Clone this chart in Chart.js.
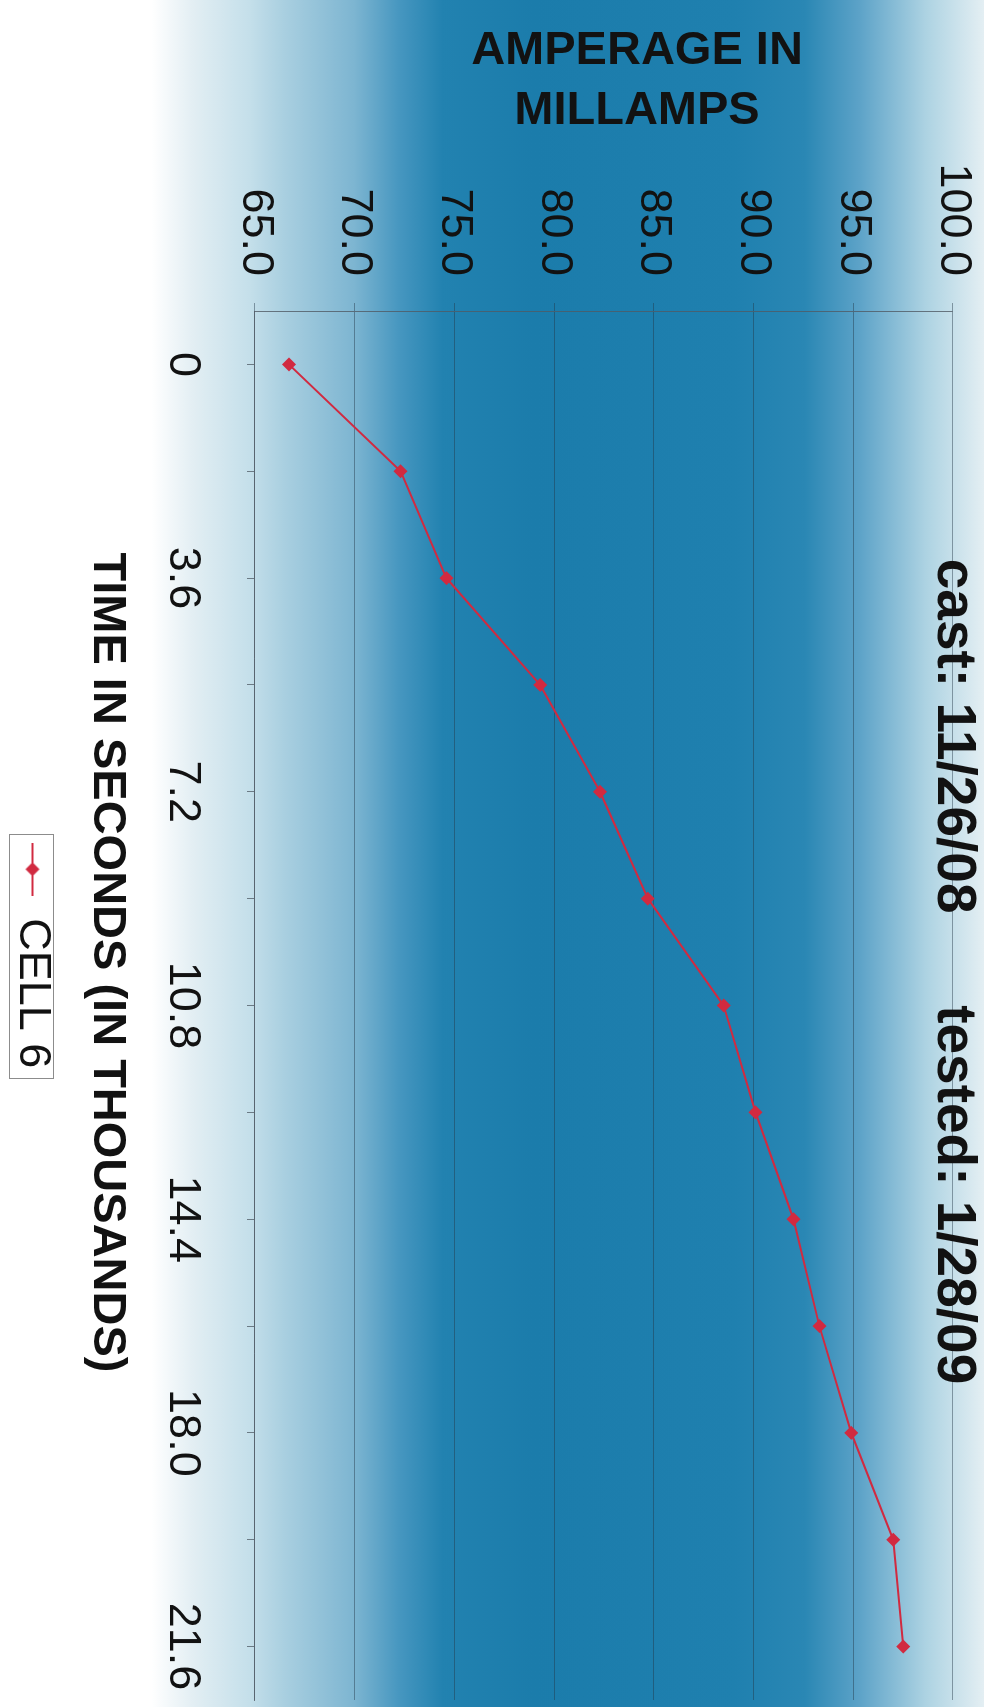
<!DOCTYPE html>
<html>
<head>
<meta charset="utf-8">
<title>Cell 6 amperage</title>
<script src="https://cdn.jsdelivr.net/npm/chart.js@4.4.0/dist/chart.umd.min.js"></script>
<style>
  html, body { margin: 0; padding: 0; background: #fff; overflow: hidden; }
  /* the chart is drawn landscape and turned a quarter clockwise, like the scan */
  #wrap {
    position: absolute; left: 0; top: 0;
    width: 1707px; height: 984px;
    transform-origin: 0 0;
    transform: translate(984px, 0) rotate(90deg);
  }
</style>
</head>
<body>
<div id="wrap"><canvas id="ampChart" width="1707" height="984"></canvas></div>
<script>
// data
const timeLabels = ['0', '1.8', '3.6', '5.4', '7.2', '9.0', '10.8', '12.6', '14.4', '16.2', '18.0', '19.8', '21.6'];
const cell6Amps  = [66.7, 72.3, 74.6, 79.3, 82.3, 84.7, 88.5, 90.1, 92.0, 93.3, 94.9, 97.0, 97.5];
const ampRange   = [65, 100];
const ampStep    = 5;
const chartTitle = 'cast: 11/26/08      tested: 1/28/09';
const ampTitle   = ['AMPERAGE IN', 'MILLAMPS'];
const timeTitle  = 'TIME IN SECONDS (IN THOUSANDS)';
const seriesName = 'CELL 6';

const FONT = "'Liberation Sans', Arial, sans-serif";
const RED  = '#d12a40';
const INK  = '#121212';

// blue band of the scanned background, top to bottom of the unrotated chart
const BG_STOPS = [
  [0.000, '#e4eff3'],
  [0.060, '#acd2e2'],
  [0.126, '#5da3c8'],
  [0.182, '#2a87b4'],
  [0.254, '#1f80af'],
  [0.457, '#1b7cab'],
  [0.550, '#2282b0'],
  [0.595, '#4797c0'],
  [0.640, '#7db5d1'],
  [0.711, '#a9cfe0'],
  [0.746, '#c4dfea'],
  [0.803, '#e2eef3'],
  [0.846, '#ffffff'],
  [1.000, '#ffffff'],
];

const bgPlugin = {
  id: 'scanBackground',
  beforeDraw(chart) {
    const { ctx, width, height } = chart;
    const g = ctx.createLinearGradient(0, 0, 0, height);
    BG_STOPS.forEach(([t, c]) => g.addColorStop(t, c));
    ctx.save();
    ctx.fillStyle = g;
    ctx.fillRect(0, 0, width, height);
    ctx.restore();
  }
};

// titles are placed like on the original sheet, a bit off the plot centre
const overlayPlugin = {
  id: 'overlayTitles',
  afterLayout(chart) {
    // legend box sits left of the plot centre in the scan
    const lg = chart.legend;
    if (lg) { lg.left -= 50; lg.right -= 50; }
  },
  afterDraw(chart) {
    const { ctx, chartArea } = chart;
    const midX = (chartArea.left + chartArea.right) / 2;
    const midY = (chartArea.top + chartArea.bottom) / 2;
    ctx.save();
    ctx.fillStyle = INK;
    ctx.textAlign = 'center';
    ctx.textBaseline = 'middle';

    ctx.font = 'bold 55px ' + FONT;
    ctx.fillText(chartTitle, midX - 34, chartArea.top);

    ctx.font = 'bold 47px ' + FONT;
    ctx.fillText(timeTitle, midX - 43, 877);

    ampTitle.forEach((line, i) => {
      ctx.save();
      ctx.translate(51 + i * 60, midY - 33);
      ctx.rotate(-Math.PI / 2);
      ctx.fillText(line, 0, 0);
      ctx.restore();
    });

    // frame round the legend
    const lg = chart.legend;
    if (lg && lg.legendHitBoxes && lg.legendHitBoxes.length) {
      const hb = lg.legendHitBoxes[0];
      const cy = hb.top + hb.height / 2;
      ctx.strokeStyle = '#8c8c8c';
      ctx.lineWidth = 1;
      ctx.strokeRect(Math.round(hb.left - 9) + 0.5, Math.round(cy - 22) + 0.5, Math.round(hb.width + 18), 44);
    }
    ctx.restore();
  }
};

// legend sample: line with a diamond on it
function makeLegendSample() {
  const c = document.createElement('canvas');
  c.width = 53; c.height = 18;
  const x = c.getContext('2d');
  x.strokeStyle = RED;
  x.lineWidth = 2;
  x.beginPath(); x.moveTo(0, 9); x.lineTo(53, 9); x.stroke();
  x.fillStyle = RED;
  x.beginPath();
  x.moveTo(26.5, 2); x.lineTo(33.5, 9); x.lineTo(26.5, 16); x.lineTo(19.5, 9);
  x.closePath(); x.fill();
  return c;
}
const legendSample = makeLegendSample();

new Chart(document.getElementById('ampChart').getContext('2d'), {
  type: 'line',
  data: {
    labels: timeLabels,
    datasets: [{
      label: seriesName,
      data: cell6Amps,
      borderColor: RED,
      backgroundColor: RED,
      borderWidth: 2,
      tension: 0,
      fill: false,
      pointStyle: 'rectRot',
      pointRadius: 7,
      pointBorderWidth: 0,
      pointBackgroundColor: RED,
    }]
  },
  options: {
    responsive: false,
    animation: false,
    layout: { padding: { top: 31, right: 5, bottom: 0, left: 0 } },
    plugins: {
      title: { display: false },
      tooltip: { enabled: false },
      legend: {
        position: 'bottom',
        fullSize: false,
        labels: {
          usePointStyle: true,
          pointStyleWidth: 53,
          padding: 4,
          color: INK,
          font: { family: FONT, size: 45 },
          generateLabels: (chart) => chart.data.datasets.map((ds, i) => ({
            text: ds.label,
            pointStyle: legendSample,
            fillStyle: ds.borderColor,
            strokeStyle: ds.borderColor,
            lineWidth: 0,
            fontColor: INK,
            hidden: false,
            datasetIndex: i,
          })),
        }
      }
    },
    scales: {
      x: {
        type: 'category',
        offset: true,
        grid: {
          drawOnChartArea: false,
          drawTicks: true,
          tickLength: 8,
          color: 'rgba(70,80,90,0.7)',
        },
        border: { display: true, color: 'rgba(80,90,100,0.8)', width: 1 },
        ticks: {
          autoSkip: false,
          maxRotation: 0,
          minRotation: 0,
          padding: 38,
          color: INK,
          font: { family: FONT, size: 45 },
          callback: (val, i) => (i % 2 === 0 ? timeLabels[i] : ''),
        },
        title: { display: false },
        afterFit: (scale) => {
          scale.height = 196;
          scale.paddingLeft = 0;
          scale.paddingRight = 0;
        },
      },
      y: {
        min: ampRange[0],
        max: ampRange[1],
        grid: {
          color: 'rgba(35,55,70,0.45)',
          lineWidth: 1,
          tickLength: 8,
        },
        border: { display: true, color: 'rgba(80,90,100,0.8)', width: 1 },
        ticks: {
          stepSize: ampStep,
          padding: 27,
          color: INK,
          font: { family: FONT, size: 45 },
          callback: (v) => Number(v).toFixed(1),
        },
        title: { display: false },
        afterFit: (scale) => {
          scale.width = 311;
          scale.paddingTop = 0;
          scale.paddingBottom = 0;
        },
      }
    }
  },
  plugins: [bgPlugin, overlayPlugin]
});
</script>
</body>
</html>
